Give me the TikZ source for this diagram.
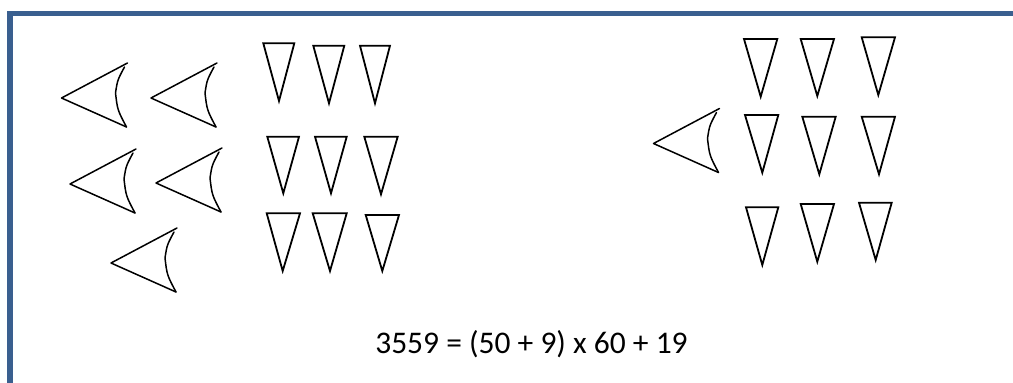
\documentclass[tikz,border=0pt]{standalone}
\usepackage{fontspec}
\setmainfont{Carlito}
\definecolor{framecol}{HTML}{3A5F8F}
\newcommand\mytri[5]{\draw[tri] (#1,#3) -- (#2,#3) -- (#4,#5) -- cycle;}
\tikzset{
  tri/.style={draw=black, line width=1.8pt, line join=miter},
  wingline/.style={draw=black, line width=1.5pt, line join=round, line cap=round},
  wing/.pic={
    \draw[wingline] (66,-35) -- (0,0) -- (65,29);
    \draw[wingline] (63,-31) .. controls (56,-18) .. (54,-5) .. controls (56,12) .. (65,29);
  },
  frame/.style={fill=framecol, draw=none},
  eq/.style={font=\fontsize{31.5}{36}\selectfont, anchor=base, inner sep=0pt}
}
\begin{document}
\begin{tikzpicture}[x=1pt,y=-1pt]
\useasboundingbox (0,0) rectangle (1013,383);
\fill[white] (0,0) rectangle (1013,383);
% frame
\fill[frame] (7.3,11) rectangle (1013,16);
\fill[frame] (7.3,11) rectangle (12.7,383);
% left wings
\pic at (61.5,98) {wing};
\pic at (151,98) {wing};
\pic at (70,184) {wing};
\pic at (156,183) {wing};
\pic at (111,263) {wing};
% right wing
\pic at (653.5,143.5) {wing};
% left triangles
\mytri{263.3}{294.3}{43.3}{279}{101}
\mytri{313.3}{344.3}{45.7}{329}{103.3}
\mytri{360}{390}{45.7}{375}{103.3}
\mytri{267.3}{299}{136.7}{283.3}{193.3}
\mytri{315}{346.7}{136.7}{331}{193.3}
\mytri{364.3}{397.7}{136.7}{381}{194.3}
\mytri{266.7}{300}{213.3}{282.7}{271}
\mytri{312.7}{346.7}{213.3}{330}{271}
\mytri{365.7}{399}{215}{382.3}{271}
% right triangles
\mytri{744}{777.3}{39}{760.7}{96.7}
\mytri{800.7}{834}{39}{817.3}{96}
\mytri{861.7}{895}{37.3}{878.3}{95}
\mytri{745}{778.3}{115}{762.3}{172.7}
\mytri{802.3}{835.7}{116.7}{819.3}{174.3}
\mytri{861.7}{895}{116.7}{879}{174.3}
\mytri{746}{778.3}{207.3}{762.3}{265}
\mytri{800.7}{834}{204}{817.3}{261.7}
\mytri{859}{891.7}{202.7}{875.7}{260}
% equation
\node[eq] (eqn) at (531.5,353.3) {3559 = (50 + 9) x 60 + 19};
\end{tikzpicture}
\end{document}
